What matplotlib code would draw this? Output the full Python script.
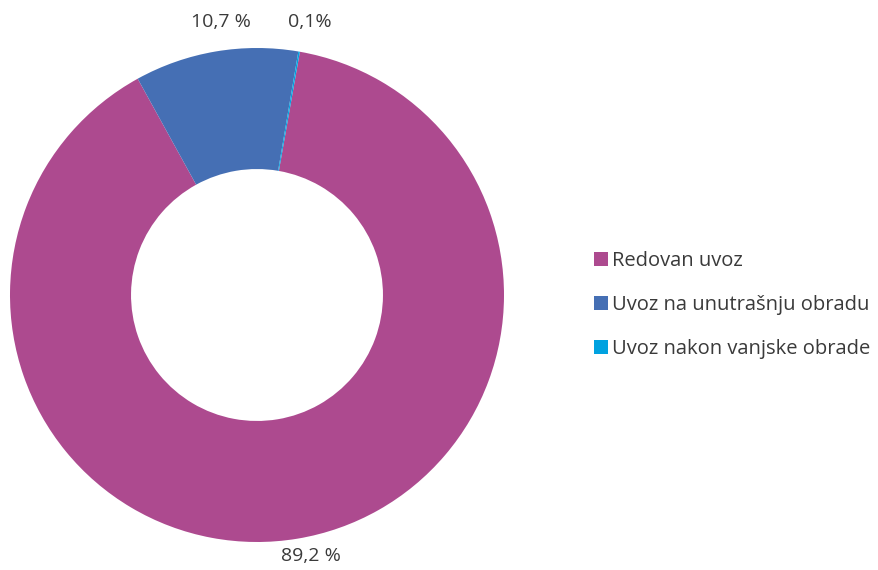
import matplotlib.pyplot as plt

categories = ['Redovan uvoz', 'Uvoz na unutrašnju obradu', 'Uvoz nakon vanjske obrade']
values = [89.2, 10.7, 0.1]
value_labels = ['89,2 %', '10,7 %', '0,1%']
colors = ['#AD4A8F', '#456FB4', '#00A2E0']

plt.rcParams['font.family'] = ['Open Sans', 'DejaVu Sans']
W, H = 879, 570
fig = plt.figure(figsize=(W / 100, H / 100), dpi=100)

# pie axes: centre (257, 295) px, radius 247 px
cx, cy, r = 257, 295, 247
ax = fig.add_axes([(cx - r) / W, (H - cy - r) / H, 2 * r / W, 2 * r / H])
wedges, _ = ax.pie(values, colors=colors, startangle=80, counterclock=False,
                   radius=1.0, wedgeprops=dict(width=0.49, edgecolor='none'))
ax.set_xlim(-1, 1)
ax.set_ylim(-1, 1)
ax.set_aspect('equal')
ax.axis('off')

# data labels (pixel positions converted to pie units)
label_pos = [(311, 556), (221, 22), (310, 22)]
for (px, py), txt in zip(label_pos, value_labels):
    ax.text((px - cx) / r, (cy - py) / r, txt, ha='center', va='center',
            fontsize=14, color='#3a3a3a', clip_on=False)

leg = fig.legend(wedges, categories, loc='center left',
                 bbox_to_anchor=(576 / W, (H - 305) / H), frameon=False,
                 handlelength=0.7, handleheight=0.7, handletextpad=0.2,
                 labelspacing=1.2, fontsize=14.5)
for t in leg.get_texts():
    t.set_color('#3a3a3a')

fig.savefig('out.png', dpi=100)
